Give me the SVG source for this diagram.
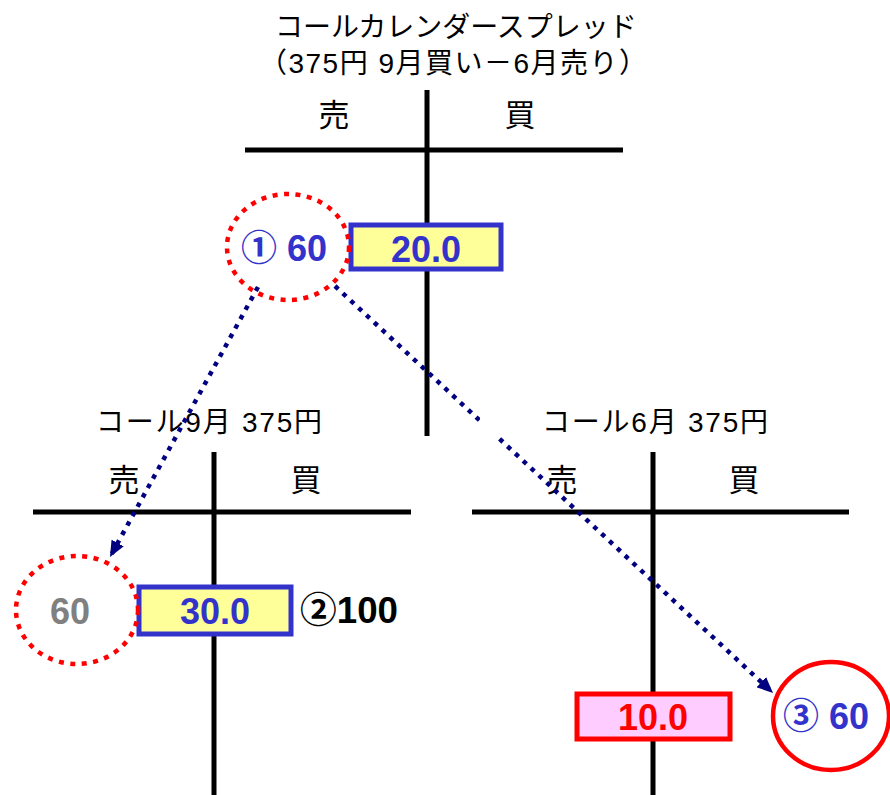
<svg xmlns="http://www.w3.org/2000/svg" width="890" height="795" viewBox="0 0 890 795">
<style>
text{font-family:"Liberation Sans","Noto Sans CJK JP",sans-serif;}
.jp{font-size:28px;fill:#000;text-anchor:middle;}
.hd{font-size:31px;fill:#000;text-anchor:middle;}
.num{font-size:36px;font-weight:bold;text-anchor:middle;}
.ax{stroke:#000;stroke-width:5;fill:none;}
.bbox{fill:#ffff99;stroke:#3333cc;stroke-width:5;}
.rbox{fill:#ffccff;stroke:#ff0000;stroke-width:5;}
.dotc{fill:none;stroke:#ff0000;stroke-width:4.5;stroke-dasharray:5 6.5;}
.conn{stroke:#000080;stroke-width:4.5;stroke-dasharray:4.5 6.2;fill:none;}
</style>
<defs>
<marker id="ah" viewBox="0 0 16 14" refX="16" refY="7" markerWidth="16" markerHeight="14" markerUnits="userSpaceOnUse" orient="auto">
<path d="M0,0 L16,7 L0,14 Z" fill="#000080"/>
</marker>
</defs>
<rect width="890" height="795" fill="#fff"/>

<g id="title">
<text class="jp" x="456" y="37">コールカレンダースプレッド</text>
<text class="jp" x="453" y="73" textLength="388" lengthAdjust="spacing">（375円 9月買い－6月売り）</text>
</g>

<g id="t-spread">
<line class="ax" x1="427" y1="90" x2="427" y2="436"/>
<line class="ax" x1="245" y1="150" x2="623" y2="150"/>
<text class="hd" x="334" y="126">売</text>
<text class="hd" x="520" y="126">買</text>
</g>

<g id="t-sep">
<text class="jp" x="209" y="432" font-size="27" textLength="226" lengthAdjust="spacing">コール9月 375円</text>
<line class="ax" x1="214" y1="452" x2="214" y2="795"/>
<line class="ax" x1="33" y1="512" x2="411" y2="512"/>
<text class="hd" x="124" y="491">売</text>
<text class="hd" x="306" y="491">買</text>
</g>

<g id="t-jun">
<line class="ax" x1="653" y1="452" x2="653" y2="795"/>
<line class="ax" x1="472" y1="512" x2="849" y2="512"/>
<text class="hd" x="562" y="491">売</text>
<text class="hd" x="744" y="491">買</text>
</g>

<g id="box-20">
<rect class="bbox" x="351" y="225" width="150" height="44"/>
<text class="num" x="426" y="262" fill="#3333cc">20.0</text>
</g>

<g id="circle-1">
<ellipse class="dotc" cx="288" cy="247" rx="61" ry="53"/>
<text class="num" x="284" y="261" fill="#3333cc">① 60</text>
</g>

<g id="box-30">
<rect class="bbox" x="139" y="587" width="152" height="47"/>
<text class="num" x="215" y="624" fill="#3333cc">30.0</text>
</g>

<g id="circle-left">
<ellipse class="dotc" cx="77" cy="610" rx="61" ry="54"/>
<text class="num" x="70" y="624" fill="#808080">60</text>
</g>

<g id="label-2">
<text x="300" y="623" style="font-size:36px;font-weight:bold;fill:#000;text-anchor:start" textLength="98" lengthAdjust="spacingAndGlyphs">②100</text>
</g>

<g id="box-10">
<rect class="rbox" x="577" y="694" width="153" height="45"/>
<text class="num" x="653" y="730" fill="#ff0000">10.0</text>
</g>

<g id="circle-3">
<ellipse cx="831" cy="716" rx="58" ry="54" fill="none" stroke="#ff0000" stroke-width="4.5"/>
<text class="num" x="826" y="729" fill="#3333cc" font-size="34">③ 60</text>
</g>

<g id="connectors">
<path class="conn" d="M258,287 L110,557" marker-end="url(#ah)"/>
<path class="conn" d="M335,286 L773,693" marker-end="url(#ah)"/>
</g>

<g id="label-jun">
<rect x="480" y="396" width="350" height="41" fill="#fff"/>
<text class="jp" x="655" y="432" font-size="27" textLength="226" lengthAdjust="spacing">コール6月 375円</text>
</g>
</svg>
